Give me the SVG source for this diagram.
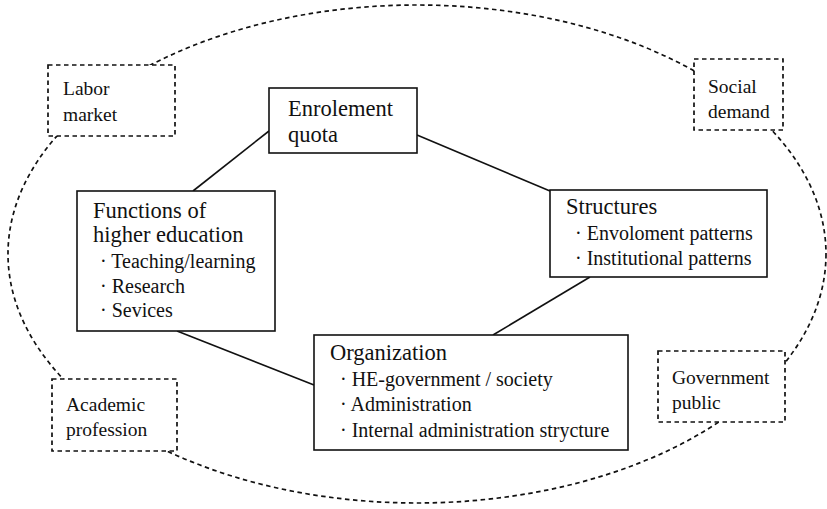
<svg xmlns="http://www.w3.org/2000/svg" width="827" height="509" viewBox="0 0 827 509">
<style>
text{font-family:"Liberation Serif","Times New Roman",serif;fill:#111}
.title{font-size:22.5px}
.item{font-size:20px}
.lab{font-size:19.5px}
.box{fill:#fff;stroke:#111;stroke-width:1.6}
.dbox{fill:#fff;stroke:#111;stroke-width:1.7;stroke-dasharray:4.5 3.5}
.env{fill:none;stroke:#111;stroke-width:1.7;stroke-dasharray:4.5 3.5}
.conn line{stroke:#111;stroke-width:1.6}
</style>
<ellipse class="env" cx="417" cy="254" rx="409" ry="249"/>
<g id="connectors" class="conn">
<line x1="269" y1="131" x2="193" y2="191"/>
<line x1="417" y1="135" x2="550" y2="191"/>
<line x1="590" y1="277" x2="493" y2="335"/>
<line x1="177" y1="331" x2="314" y2="385"/>
</g>
<g id="labor-market">
<rect class="dbox" x="48" y="65" width="127" height="71"/>
<text class="lab" x="63" y="95">Labor</text>
<text class="lab" x="63" y="121">market</text>
</g>
<g id="social-demand">
<rect class="dbox" x="694" y="59" width="89" height="71"/>
<text class="lab" x="708" y="93">Social</text>
<text class="lab" x="708" y="118">demand</text>
</g>
<g id="academic-profession">
<rect class="dbox" x="52" y="379" width="125" height="72"/>
<text class="lab" x="66" y="411">Academic</text>
<text class="lab" x="66" y="436">profession</text>
</g>
<g id="government-public">
<rect class="dbox" x="658" y="351" width="127" height="71"/>
<text class="lab" x="672" y="384">Government</text>
<text class="lab" x="672" y="409">public</text>
</g>
<g id="enrolement-quota">
<rect class="box" x="269" y="88" width="148" height="65"/>
<text class="title" x="288" y="116">Enrolement</text>
<text class="title" x="288" y="142">quota</text>
</g>
<g id="functions">
<rect class="box" x="77" y="191" width="198" height="140"/>
<text class="title" x="93" y="218">Functions of</text>
<text class="title" x="93" y="242">higher education</text>
<text class="item" x="100" y="268">· Teaching/learning</text>
<text class="item" x="100" y="293">· Research</text>
<text class="item" x="100" y="317">· Sevices</text>
</g>
<g id="structures">
<rect class="box" x="550" y="190" width="217" height="87"/>
<text class="title" x="566" y="214">Structures</text>
<text class="item" x="575" y="240">· Envoloment patterns</text>
<text class="item" x="575" y="265">· Institutional patterns</text>
</g>
<g id="organization">
<rect class="box" x="314" y="335" width="314" height="115"/>
<text class="title" x="330" y="360">Organization</text>
<text class="item" x="340" y="386">· HE-government / society</text>
<text class="item" x="340" y="411">· Administration</text>
<text class="item" x="340" y="437">· Internal administration strycture</text>
</g>
</svg>
